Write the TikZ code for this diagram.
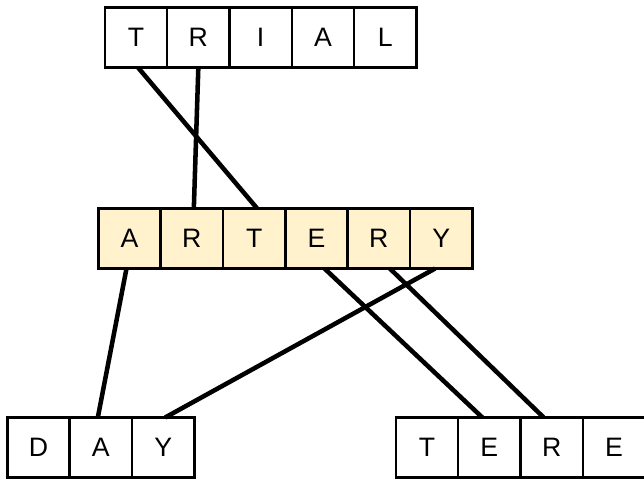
\documentclass[tikz,border=0pt]{standalone}
\usepackage{fontspec}
\setmainfont{Liberation Sans}
\usetikzlibrary{positioning}
\definecolor{lightyellow}{HTML}{FFF2CC}
\tikzset{
    letter/.style={draw, rectangle, line width=1.8pt, outer sep=0pt, inner sep=0pt, minimum width=46.75pt, minimum height=45pt, font=\fontsize{20}{22}\selectfont},
    hilite/.style={letter, fill=lightyellow},
    link/.style={line width=3.4pt}
}
\begin{document}
\begin{tikzpicture}[x=0.75pt, y=0.75pt, node distance=0pt]
        \useasboundingbox (0,0) rectangle (644,481);
        % top word
        \node (trialT) [letter] at (136,443.5) {T};
        \node (trialR) [letter, right=of trialT] {R};
        \node (trialI) [letter, right=of trialR] {I};
        \node (trialA) [letter, right=of trialI] {A};
        \node (trialL) [letter, right=of trialA] {L};
        % middle word
        \node (artA) [hilite] at (129.5,242.5) {A};
        \node (artR) [hilite, right=of artA] {R};
        \node (artT) [hilite, right=of artR] {T};
        \node (artE) [hilite, right=of artT] {E};
        \node (artR2) [hilite, right=of artE] {R};
        \node (artY) [hilite, right=of artR2] {Y};
        % bottom words
        \node (dayD) [letter] at (38.5,33.5) {D};
        \node (dayA) [letter, right=of dayD] {A};
        \node (dayY) [letter, right=of dayA] {Y};
        \node (tereT) [letter] at (427,33.5) {T};
        \node (tereE) [letter, right=of tereT] {E};
        \node (tereR) [letter, right=of tereE] {R};
        \node (tereE2) [letter, right=of tereR] {E};

        \draw[link] ([xshift=1.5pt]trialT.south) -- ([xshift=2.25pt]artT.north);
        \draw[link] (trialR.south) -- ([xshift=1.5pt]artR.north);
        \draw[link] ([xshift=-2.25pt]artA.south) -- ([xshift=-2.25pt]dayA.north);
        \draw[link] ([xshift=-4.5pt]artY.south) -- ([xshift=1.5pt]dayY.north);
        \draw[link] ([xshift=6pt]artE.south) -- ([xshift=-5.25pt]tereE.north);
        \draw[link] ([xshift=8.25pt]artR2.south) -- ([xshift=-6pt]tereR.north);
\end{tikzpicture}
\end{document}
